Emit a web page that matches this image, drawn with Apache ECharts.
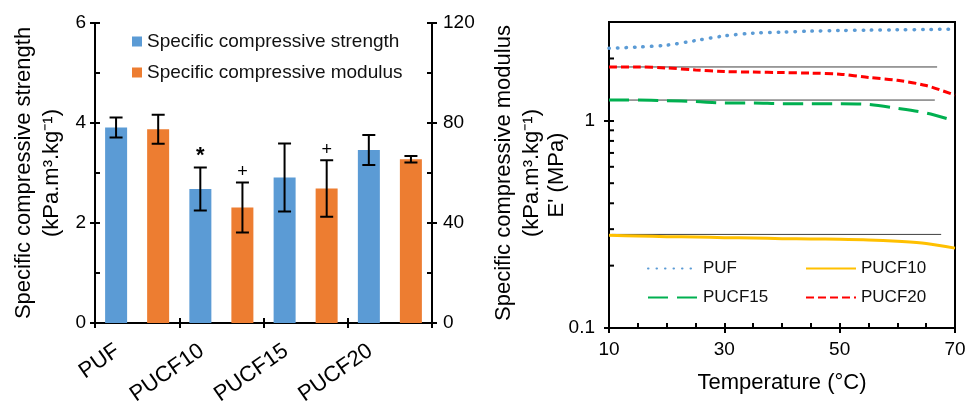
<!DOCTYPE html>
<html>
<head>
<meta charset="utf-8">
<script src="https://cdn.jsdelivr.net/npm/echarts@6/dist/echarts.min.js"></script>
<style>
html,body{margin:0;padding:0;background:#fff;}
#chart{width:976px;height:402px;}
</style>
</head>
<body>
<div id="chart"></div>
<script>
// ---------- Left chart data ----------
const categories = ['PUF', 'PUCF10', 'PUCF15', 'PUCF20'];
const strength = [3.91, 2.68, 2.91, 3.46];
const strengthErr = [0.20, 0.43, 0.68, 0.30];
const modulus = [77.5, 46.2, 53.8, 65.5];
const modulusErr = [5.8, 10.0, 11.3, 1.3];
const strengthMarks = ['', '*', '', ''];
const modulusMarks = ['', '+', '+', ''];

// ---------- Right chart data ----------
const temps = [10, 15, 20, 25, 30, 35, 40, 45, 50, 55, 60, 65, 70];
const puf    = [2.24, 2.27, 2.32, 2.44, 2.57, 2.65, 2.68, 2.71, 2.73, 2.74, 2.75, 2.76, 2.77];
const pucf10 = [0.280, 0.278, 0.276, 0.275, 0.273, 0.272, 0.270, 0.269, 0.268, 0.266, 0.262, 0.256, 0.243];
const pucf15 = [1.26, 1.26, 1.25, 1.24, 1.22, 1.22, 1.21, 1.21, 1.21, 1.20, 1.15, 1.09, 1.00];
const pucf20 = [1.82, 1.82, 1.80, 1.76, 1.73, 1.72, 1.71, 1.70, 1.68, 1.62, 1.57, 1.48, 1.33];
const refLevels = [1.82, 1.26, 0.283];
const refStart = [10.5, 10.5, 10.5];
const refEnd = [66.9, 66.5, 67.6];
const logMinorTicks = [0.2, 0.3, 0.4, 0.5, 0.6, 0.7, 0.8, 0.9, 2];

const FONT = 'Liberation Sans';
const BLACK = '#000';

function pairs(xs, ys) { return xs.map((x, i) => [x, ys[i]]); }

function errRenderer(side, vals, errs, marks) {
  return function (params, api) {
    const i = params.dataIndex;
    const lo = api.coord([i, vals[i] - errs[i]]);
    const hi = api.coord([i, vals[i] + errs[i]]);
    const w = api.size([1, 0])[0];
    const x = lo[0] + side * w * 0.25;
    const cap = 6.5;
    const st = { stroke: BLACK, lineWidth: 2 };
    const children = [
      { type: 'line', shape: { x1: x, y1: lo[1], x2: x, y2: hi[1] }, style: st },
      { type: 'line', shape: { x1: x - cap, y1: lo[1], x2: x + cap, y2: lo[1] }, style: st },
      { type: 'line', shape: { x1: x - cap, y1: hi[1], x2: x + cap, y2: hi[1] }, style: st }
    ];
    if (marks[i]) {
      children.push({
        type: 'text',
        style: {
          text: marks[i], x: x, y: hi[1] - 1,
          align: 'center', verticalAlign: 'bottom',
          fontFamily: FONT, fontSize: marks[i] === '*' ? 22 : 18,
          fontWeight: marks[i] === '*' ? 'bold' : 'normal', fill: BLACK
        }
      });
    }
    return { type: 'group', children: children };
  };
}

const axisLineStyle = { show: true, lineStyle: { color: BLACK, width: 2 } };
const outTick = { show: true, inside: false, length: 5, lineStyle: { color: BLACK, width: 2 } };
const inTick = { show: true, inside: true, length: 5, lineStyle: { color: BLACK, width: 2 } };
const tickLabel = { color: BLACK, fontFamily: FONT, fontSize: 19 };
const nameStyle = { color: BLACK, fontFamily: FONT, fontSize: 22, lineHeight: 28 };
const lineLegendCommon = {
  orient: 'vertical', top: 255, itemWidth: 50, itemHeight: 14, itemGap: 12,
  itemStyle: { opacity: 0 },
  textStyle: { color: '#111', fontFamily: FONT, fontSize: 17 }
};

const chart = echarts.init(document.getElementById('chart'), null, { renderer: 'canvas' });

const option = {
  animation: false,
  backgroundColor: '#fff',
  grid: [
    { left: 95, right: 544, top: 23, bottom: 79, containLabel: false, outerBoundsMode: 'none' },
    { left: 609, right: 21, top: 22, bottom: 74, containLabel: false, outerBoundsMode: 'none',
      show: true, borderColor: BLACK, borderWidth: 2, backgroundColor: 'transparent' }
  ],
  legend: [
    {
      data: ['Specific compressive strength', 'Specific compressive modulus'],
      orient: 'vertical', left: 127, top: 27, itemWidth: 10, itemHeight: 10, itemGap: 12,
      icon: 'rect', textStyle: { color: '#111', fontFamily: FONT, fontSize: 19 }
    },
    Object.assign({ data: ['PUF', 'PUCF15'], left: 642 }, lineLegendCommon),
    Object.assign({ data: ['PUCF10', 'PUCF20'], left: 800 }, lineLegendCommon)
  ],
  xAxis: [
    {
      type: 'category', gridIndex: 0, data: categories, position: 'bottom',
      axisLine: axisLineStyle, axisTick: outTick,
      axisLabel: { color: BLACK, fontFamily: FONT, fontSize: 22, rotate: 35, margin: 12,
                   padding: [0, 24, 0, 0], interval: 0 },
      splitLine: { show: false }
    },
    {
      type: 'category', gridIndex: 0, data: categories, position: 'bottom',
      axisLine: { show: false }, axisTick: inTick, axisLabel: { show: false },
      splitLine: { show: false }
    },
    {
      type: 'value', gridIndex: 1, min: 10, max: 70, interval: 20, position: 'bottom',
      axisLine: axisLineStyle, axisTick: outTick,
      axisLabel: Object.assign({ margin: 12 }, tickLabel),
      splitLine: { show: false },
      name: 'Temperature (°C)', nameLocation: 'middle', nameGap: 41, nameMoveOverlap: false,
      nameTextStyle: nameStyle
    },
    {
      type: 'value', gridIndex: 1, min: 10, max: 70, interval: 20, position: 'bottom',
      axisLine: { show: false }, axisTick: inTick, axisLabel: { show: false },
      minorTick: { show: true, splitNumber: 4, length: 5, lineStyle: { color: BLACK, width: 2 } },
      splitLine: { show: false }
    }
  ],
  yAxis: [
    {
      type: 'value', gridIndex: 0, min: 0, max: 6, interval: 2, position: 'left',
      axisLine: axisLineStyle, axisTick: outTick,
      axisLabel: Object.assign({ margin: 9 }, tickLabel),
      splitLine: { show: false },
      name: 'Specific compressive strength\n(kPa.m³.kg⁻¹)', nameLocation: 'middle',
      nameRotate: 90, nameGap: 29, nameMoveOverlap: false, nameTextStyle: nameStyle
    },
    {
      type: 'value', gridIndex: 0, min: 0, max: 120, interval: 40, position: 'right',
      axisLine: axisLineStyle, axisTick: outTick,
      axisLabel: Object.assign({ margin: 11 }, tickLabel),
      splitLine: { show: false },
      name: 'Specific compressive modulus\n(kPa.m³.kg⁻¹)', nameLocation: 'middle',
      nameRotate: 90, nameGap: 58, nameMoveOverlap: false, nameTextStyle: nameStyle
    },
    {
      type: 'value', gridIndex: 0, min: 0, max: 6, interval: 2, position: 'left',
      axisLine: { show: false }, axisTick: inTick, axisLabel: { show: false },
      minorTick: { show: true, splitNumber: 2, length: 5, lineStyle: { color: BLACK, width: 2 } },
      splitLine: { show: false }
    },
    {
      type: 'value', gridIndex: 0, min: 0, max: 120, interval: 40, position: 'right',
      axisLine: { show: false }, axisTick: inTick, axisLabel: { show: false },
      minorTick: { show: true, splitNumber: 2, length: 5, lineStyle: { color: BLACK, width: 2 } },
      splitLine: { show: false }
    },
    {
      type: 'log', logBase: 10, gridIndex: 1, min: 0.1, max: 3, position: 'left',
      axisLine: axisLineStyle, axisTick: outTick,
      axisLabel: Object.assign({ margin: 14, showMaxLabel: false,
        formatter: v => (v >= 1 ? String(Math.round(v)) : String(Math.round(v * 10) / 10)) }, tickLabel),
      splitLine: { show: false },
      name: "E' (MPa)", nameLocation: 'middle', nameRotate: 90, nameGap: 38,
      nameMoveOverlap: false, nameTextStyle: nameStyle
    },
    {
      type: 'log', logBase: 10, gridIndex: 1, min: 0.1, max: 3, position: 'left',
      axisLine: { show: false }, axisTick: inTick, axisLabel: { show: false },
      splitLine: { show: false }
    }
  ],
  series: [
    {
      name: 'Specific compressive strength', type: 'bar', xAxisIndex: 0, yAxisIndex: 0,
      data: strength, barWidth: 22, barGap: '91%', itemStyle: { color: '#5B9BD5' }
    },
    {
      name: 'Specific compressive modulus', type: 'bar', xAxisIndex: 0, yAxisIndex: 1,
      data: modulus, barWidth: 22, barGap: '91%', itemStyle: { color: '#ED7D31' }
    },
    {
      name: 'errStrength', type: 'custom', xAxisIndex: 0, yAxisIndex: 0, silent: true, z: 5,
      data: categories.map((c, i) => [i, strength[i]]),
      renderItem: errRenderer(-1, strength, strengthErr, strengthMarks)
    },
    {
      name: 'errModulus', type: 'custom', xAxisIndex: 0, yAxisIndex: 1, silent: true, z: 5,
      data: categories.map((c, i) => [i, modulus[i]]),
      renderItem: errRenderer(1, modulus, modulusErr, modulusMarks)
    },
    ...refLevels.map((lv, k) => ({
      name: 'ref' + k, type: 'line', xAxisIndex: 2, yAxisIndex: 4, silent: true, symbol: 'none',
      data: [[refStart[k], lv], [refEnd[k], lv]],
      lineStyle: { color: '#404040', width: 1 }, z: 1
    })),
    {
      name: 'PUF', type: 'line', xAxisIndex: 2, yAxisIndex: 4, symbol: 'none', smooth: 0.3,
      data: pairs(temps, puf), itemStyle: { color: '#5B9BD5' },
      lineStyle: { color: '#5B9BD5', width: 3.5, type: [0.5, 8], cap: 'round' }
    },
    {
      name: 'PUCF10', type: 'line', xAxisIndex: 2, yAxisIndex: 4, symbol: 'none', smooth: 0.3,
      data: pairs(temps, pucf10), itemStyle: { color: '#FFC000' },
      lineStyle: { color: '#FFC000', width: 3 }
    },
    {
      name: 'PUCF15', type: 'line', xAxisIndex: 2, yAxisIndex: 4, symbol: 'none', smooth: 0.3,
      data: pairs(temps, pucf15), itemStyle: { color: '#00B050' },
      lineStyle: { color: '#00B050', width: 3, type: [20, 9] }
    },
    {
      name: 'PUCF20', type: 'line', xAxisIndex: 2, yAxisIndex: 4, symbol: 'none', smooth: 0.3,
      data: pairs(temps, pucf20), itemStyle: { color: '#FF0000' },
      lineStyle: { color: '#FF0000', width: 3, type: [8, 4] }
    },
    {
      name: 'logMinor', type: 'custom', xAxisIndex: 2, yAxisIndex: 4, silent: true, z: 6,
      data: logMinorTicks.map(v => [10, v]),
      renderItem: function (params, api) {
        const p = api.coord([api.value(0), api.value(1)]);
        return { type: 'line', shape: { x1: p[0], y1: p[1], x2: p[0] + 5, y2: p[1] },
                 style: { stroke: BLACK, lineWidth: 2 } };
      }
    }
  ]
};
chart.setOption(option);
</script>
</body>
</html>
